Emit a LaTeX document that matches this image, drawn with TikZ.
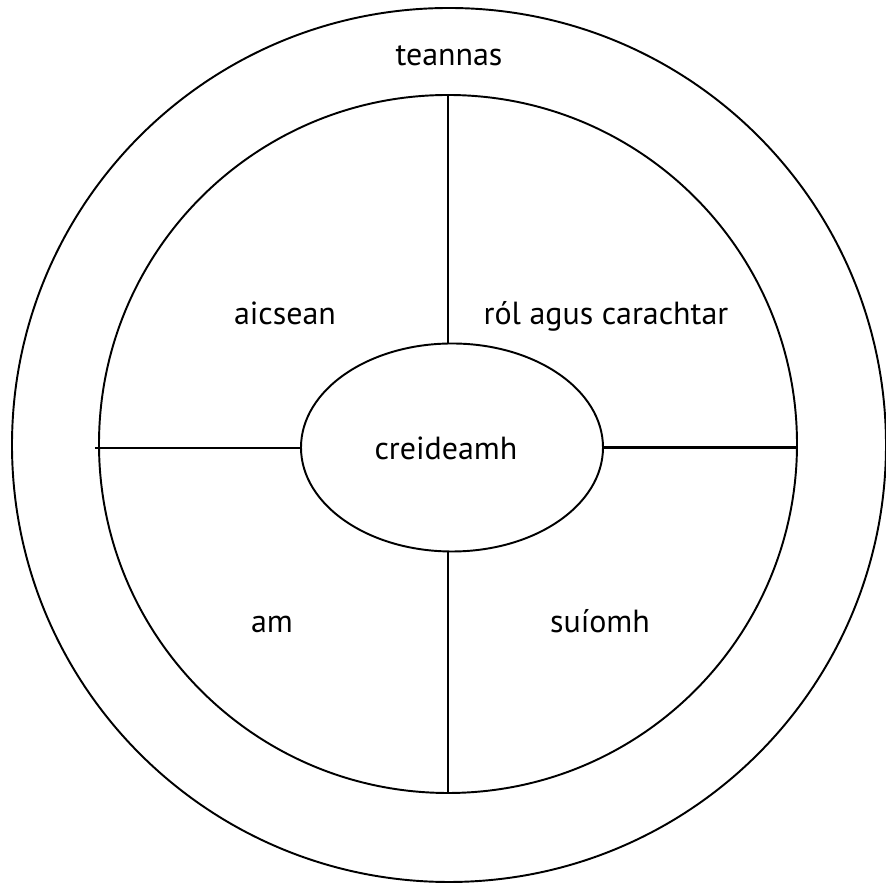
\documentclass[tikz,border=0pt]{standalone}
\usepackage{fontspec}
\setmainfont{PT Sans}
\usepackage{tikz}
\usetikzlibrary{positioning,shapes.geometric,calc}
\definecolor{ink}{HTML}{000000}
\tikzset{
  ring/.style={draw=ink,circle,line width=1.1pt,inner sep=0pt},
  core/.style={draw=ink,ellipse,line width=1.1pt,inner sep=0pt,
               minimum width=6.04cm,minimum height=4.16cm},
  divider/.style={draw=ink,line width=1.2pt},
  lbl/.style={font=\fontsize{18.2}{22}\selectfont,text=ink,anchor=base,inner sep=0pt}
}
\begin{document}
\begin{tikzpicture}[x=1cm,y=1cm]
    \path[use as bounding box] (-8.86,-8.84) rectangle (8.86,8.84);
    \node[ring,minimum size=17.48cm] (outer) at (0.12,-0.06) {};
    \node[ring,minimum size=13.96cm] (inner) at (0.10,-0.04) {};
    \node[core] (ell) at (0.18,-0.11) {};
    \coordinate (lft) at (-6.96,-0.12);

    \draw[divider] (inner.north) -- (inner.north |- ell.north);
    \draw[divider] (inner.south) -- (inner.south |- ell.south);
    \draw[divider] (lft) -- (lft -| ell.west);
    \draw[divider] (ell.east) -- (ell.east -| inner.east);

    \node[lbl] (tension) at (0.12,7.53) {teannas};
    \node[lbl] (action) at (-3.16,2.34) {aicsean};
    \node[lbl] (role) at (3.26,2.34) {ról agus carachtar};
    \node[lbl] (belief) at (0.06,-0.36) {creideamh};
    \node[lbl] (time) at (-3.42,-3.82) {am};
    \node[lbl] (place) at (3.14,-3.82) {suíomh};
\end{tikzpicture}
\end{document}
